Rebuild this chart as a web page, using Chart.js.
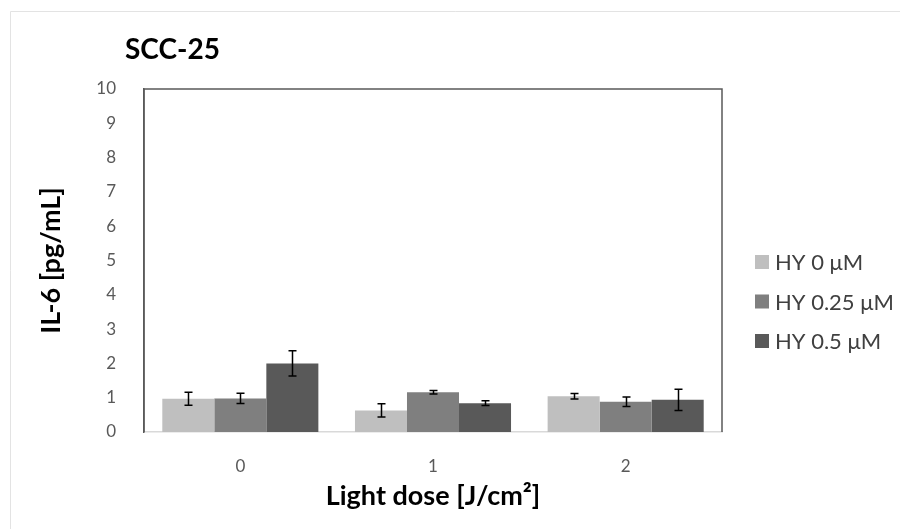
<!DOCTYPE html>
<html>
<head>
<meta charset="utf-8">
<script src="https://cdn.jsdelivr.net/npm/chart.js@4/dist/chart.umd.min.js"></script>
<style>
  html, body { margin: 0; padding: 0; background: #ffffff; }
  #wrap { width: 900px; height: 529px; position: relative; }
</style>
</head>
<body>
<div id="wrap"><canvas id="c" width="900" height="529"></canvas></div>
<script>
// ---- data ----
const categories = ["0", "1", "2"];
const seriesNames = ["HY 0 \u03bcM", "HY 0.25 \u03bcM", "HY 0.5 \u03bcM"];
const hy0 = [0.97, 0.63, 1.04];
const hy025 = [0.98, 1.16, 0.88];
const hy05 = [2.0, 0.84, 0.94];
const hy0Err = [0.19, 0.19, 0.08];
const hy025Err = [0.15, 0.05, 0.14];
const hy05Err = [0.37, 0.07, 0.31];
const yTicks = [0, 1, 2, 3, 4, 5, 6, 7, 8, 9, 10];
const chartTitle = "SCC-25";
const xTitle = "Light dose [J/cm\u00b2]";
const yTitle = "IL-6 [pg/mL]";

const colors = ["#bfbfbf", "#7f7f7f", "#595959"];
const FONT = "Lato, 'Open Sans', sans-serif";

const values = [hy0, hy025, hy05];
const errors = [hy0Err, hy025Err, hy05Err];

const datasets = values.map((v, i) => ({
  label: seriesNames[i],
  data: v,
  errors: errors[i],
  backgroundColor: colors[i],
  borderWidth: 0,
  categoryPercentage: 0.81,
  barPercentage: 1.0
}));

const framePlugin = {
  id: 'frame',
  beforeDraw(chart) {
    const ctx = chart.ctx;
    ctx.save();
    ctx.fillStyle = '#ffffff';
    ctx.fillRect(0, 0, chart.width, chart.height);
    ctx.strokeStyle = '#e3e3e3';
    ctx.lineWidth = 1;
    ctx.beginPath();
    ctx.moveTo(10.5, chart.height);
    ctx.lineTo(10.5, 11.5);
    ctx.lineTo(chart.width, 11.5);
    ctx.stroke();
    ctx.restore();
  },
  afterDraw(chart) {
    const ctx = chart.ctx;
    const a = chart.chartArea;
    ctx.save();
    ctx.strokeStyle = '#595959';
    ctx.lineWidth = 1.5;
    ctx.beginPath();
    ctx.moveTo(a.left, a.bottom);
    ctx.lineTo(a.left, a.top);
    ctx.lineTo(a.right, a.top);
    ctx.lineTo(a.right, a.bottom);
    ctx.stroke();
    // title
    ctx.fillStyle = '#000000';
    ctx.font = "bold 28px " + FONT;
    ctx.textAlign = 'left';
    ctx.textBaseline = 'alphabetic';
    ctx.fillText(chartTitle, 125, 59);
    // legend
    ctx.font = "22px " + FONT;
    ctx.textBaseline = 'middle';
    chart.data.datasets.forEach((ds, i) => {
      const cy = 262 + i * 39.5;
      ctx.fillStyle = ds.backgroundColor;
      ctx.fillRect(755, cy - 7, 14, 14);
      ctx.fillStyle = '#404040';
      ctx.fillText(ds.label, 775, cy + 1);
    });
    ctx.restore();
  },
  afterDatasetsDraw(chart) {
    const ctx = chart.ctx;
    const y = chart.scales.y;
    ctx.save();
    ctx.strokeStyle = '#000000';
    ctx.lineWidth = 1.5;
    chart.data.datasets.forEach((ds, i) => {
      const meta = chart.getDatasetMeta(i);
      meta.data.forEach((bar, j) => {
        const v = ds.data[j], e = ds.errors[j];
        const x = Math.round(bar.x) + 0.5;
        const yTop = y.getPixelForValue(v + e);
        const yBot = y.getPixelForValue(v - e);
        const cap = 4;
        ctx.beginPath();
        ctx.moveTo(x, yTop); ctx.lineTo(x, yBot);
        ctx.moveTo(x - cap, yTop); ctx.lineTo(x + cap, yTop);
        ctx.moveTo(x - cap, yBot); ctx.lineTo(x + cap, yBot);
        ctx.stroke();
      });
    });
    ctx.restore();
  }
};

new Chart(document.getElementById('c'), {
  type: 'bar',
  data: { labels: categories, datasets },
  plugins: [framePlugin],
  options: {
    responsive: false,
    devicePixelRatio: 1,
    animation: false,
    layout: { padding: { left: 31, right: 178, top: 89, bottom: 13 } },
    plugins: { legend: { display: false }, tooltip: { enabled: false }, title: { display: false } },
    scales: {
      x: {
        grid: { display: false, drawTicks: false },
        border: { display: true, color: '#d9d9d9', width: 1.5 },
        ticks: { color: '#595959', font: { family: FONT, size: 17 }, padding: 24 },
        title: { display: true, text: xTitle, color: '#000000', font: { family: FONT, size: 27, weight: 'bold' }, padding: { top: 4, bottom: 4 } },
        afterFit(scale) { scale.height = 529 - 432 - 13; }
      },
      y: {
        min: 0, max: 10,
        afterBuildTicks(scale) { scale.ticks = yTicks.map(v => ({ value: v })); },
        grid: { display: false, drawTicks: false },
        border: { display: true, color: '#595959', width: 1.5 },
        ticks: { color: '#595959', font: { family: FONT, size: 17 }, padding: 28 },
        title: { display: true, text: yTitle, color: '#000000', font: { family: FONT, size: 27, weight: 'bold' }, padding: { top: 4, bottom: 4 } },
        afterFit(scale) { scale.width = 144 - 31; }
      }
    }
  }
});
</script>
</body>
</html>
